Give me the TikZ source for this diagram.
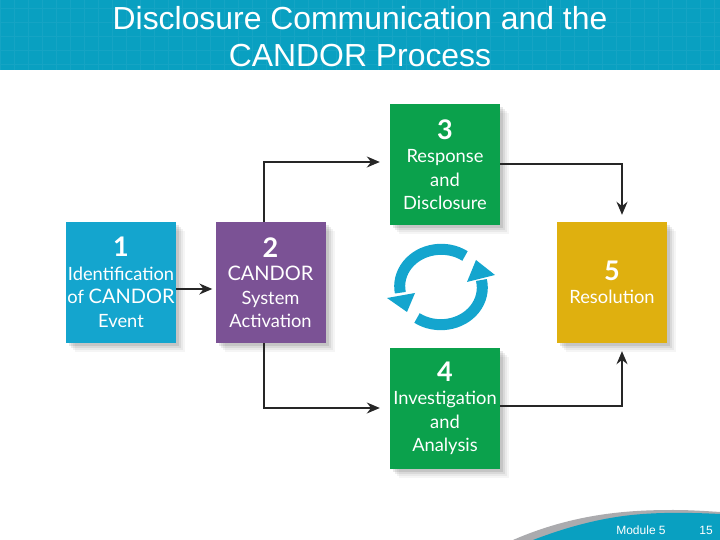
\documentclass[tikz,border=0pt]{standalone}
\usepackage{fontspec}
\setmainfont{Lato}
\newfontfamily\headfont{Liberation Sans}
\usetikzlibrary{shadows,arrows.meta}

\definecolor{bandblue}{HTML}{09A0C1}
\definecolor{stepblue}{HTML}{14A5CE}
\definecolor{steppurple}{HTML}{7B5295}
\definecolor{stepgreen}{HTML}{0BA14C}
\definecolor{stepgold}{HTML}{DFB00F}
\definecolor{swooshgrey}{HTML}{ABABAE}

\newcommand{\stepnum}[1]{{\fontsize{27}{23.5}\selectfont\bfseries #1}}
\newcommand{\stepcaps}[1]{{\fontsize{20}{23.5}\selectfont #1}}

\tikzset{
    softshadow/.style={
        drop shadow={shadow xshift=9pt,shadow yshift=-9pt,opacity=.04,fill=black},
        drop shadow={shadow xshift=7pt,shadow yshift=-7pt,opacity=.05,fill=black},
        drop shadow={shadow xshift=5pt,shadow yshift=-5pt,opacity=.07,fill=black},
        drop shadow={shadow xshift=3pt,shadow yshift=-3pt,opacity=.09,fill=black}},
    stepbox/.style={softshadow,minimum width=110pt,minimum height=121pt,inner sep=0pt,
        align=center,text=white,font=\fontsize{18.3}{23.5}\selectfont},
    link/.style={-{Stealth[length=13pt,width=11pt]},line width=1.6pt,draw=black!85},
    ring/.style={line width=11pt,draw=stepblue},
    ringtip/.style={fill=stepblue,draw=none},
    headtext/.style={text=white,font=\headfont\fontsize{31.9}{32}\selectfont,inner sep=0pt},
    foottext/.style={text=white,font=\headfont\fontsize{12}{12}\selectfont,inner sep=0pt}
}

\begin{document}
\begin{tikzpicture}[x=1pt,y=1pt]
    \useasboundingbox (0,0) rectangle (720,540);

    % title band
    \fill[bandblue] (0,470) rectangle (720,540);
    \draw[white,opacity=.05,line width=.5pt,step=14] (0,470) grid (720,540);
    \node[headtext] (titleone) at (360,522) {Disclosure Communication and the};
    \node[headtext] (titletwo) at (360,484) {CANDOR Process};

    % footer swoosh
    \fill[swooshgrey] (513,0) .. controls (575,27) and (630,30) .. (673,30) .. controls (690,30) and (705,29) .. (720,28) -- (720,0) -- cycle;
    \fill[bandblue] (533,0) .. controls (580,18) and (615,24) .. (643,26) .. controls (670,28) and (700,27) .. (720,26) -- (720,0) -- cycle;
    \node[foottext] (module) at (641,10) {Module 5};
    \node[foottext] (page) at (706,10) {15};

    % steps
    \node[stepbox,fill=stepblue] (identify) at (121,257.5) {\stepnum{1}\\Identification\\of \stepcaps{CANDOR}\\Event};
    \node[stepbox,fill=steppurple] (activate) at (270.5,257.5) {\stepnum{2}\\\stepcaps{CANDOR}\\System\\Activation};
    \node[stepbox,fill=stepgreen] (respond) at (445,375.5) {\stepnum{3}\\Response\\and\\Disclosure};
    \node[stepbox,fill=stepgreen] (analyse) at (445,131.5) {\stepnum{4}\\Investigation\\and\\Analysis};
    \node[stepbox,fill=stepgold] (resolve) at (612,257.5) {\stepnum{5}\\Resolution};

    % connectors
    \draw[link,shorten >=3pt] ([yshift=-6.5pt]identify.east) -- ([yshift=-6.5pt]activate.west);
    \draw[link,shorten >=10pt] ([xshift=-6.5pt]activate.north) |- ([yshift=2.5pt]respond.west);
    \draw[link,shorten >=10pt] ([xshift=-6.5pt]activate.south) |- ([yshift=.5pt]analyse.west);
    \draw[link,shorten >=7pt] ([yshift=.5pt]respond.east) -| ([xshift=10pt]resolve.north);
    \draw[link,shorten >=8pt] ([yshift=2.5pt]analyse.east) -| ([xshift=10pt]resolve.south);

    % cycle arrows
    \draw[ring] (465,284) arc[start angle=55,end angle=190,x radius=41.5,y radius=37];
    \fill[ringtip] (387,242) -- (415,247) -- (407,228) -- cycle;
    \draw[ring] (417,222) arc[start angle=235,end angle=372,x radius=41.5,y radius=37];
    \fill[ringtip] (467,258) -- (495,265) -- (476,280) -- cycle;
\end{tikzpicture}
\end{document}
